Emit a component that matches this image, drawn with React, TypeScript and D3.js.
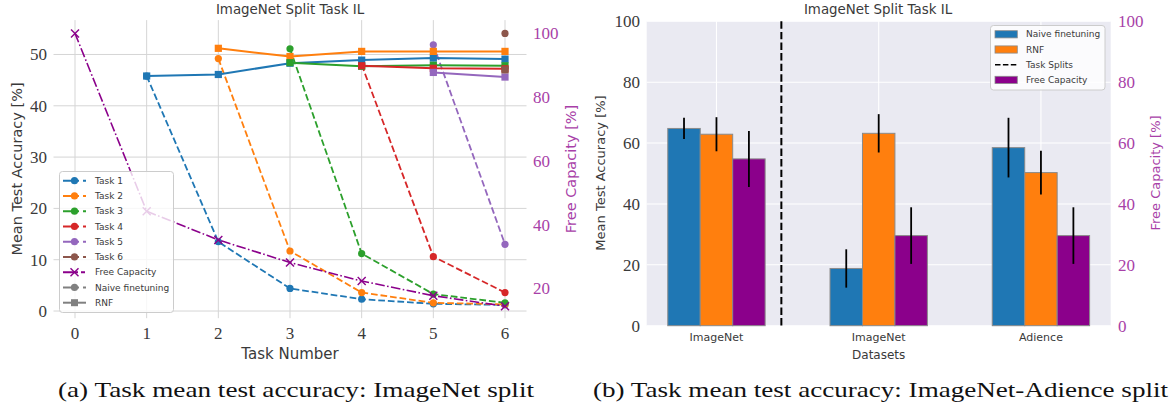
import React from 'react';
import * as d3 from 'd3';

// ---------- Data: left chart (ImageNet split) ----------
const taskNumbers = [0, 1, 2, 3, 4, 5, 6];
const accTicks = [0, 10, 20, 30, 40, 50];
const capTicks = [20, 40, 60, 80, 100];
const taskNames = ['Task 1', 'Task 2', 'Task 3', 'Task 4', 'Task 5', 'Task 6'];
const taskStarts = [1, 2, 3, 4, 5, 6];
const taskColors = ['#1f77b4', '#ff7f0e', '#2ca02c', '#d62728', '#9467bd', '#8c564b'];

const naiveTask1 = [45.8, 13.5, 4.4, 2.3, 1.4, 1.2];
const naiveTask2 = [49.2, 11.7, 3.6, 1.6, 1.3];
const naiveTask3 = [51.1, 11.2, 3.3, 1.6];
const naiveTask4 = [48.0, 10.6, 3.6];
const naiveTask5 = [51.9, 13.0];
const naiveTask6 = [54.1];

const rnfTask1 = [45.8, 46.1, 48.3, 48.9, 49.3, 49.1];
const rnfTask2 = [51.2, 49.6, 50.6, 50.6, 50.6];
const rnfTask3 = [48.4, 47.7, 47.9, 47.8];
const rnfTask4 = [47.8, 47.3, 47.2];
const rnfTask5 = [46.5, 45.6];
const rnfTask6 = [47.0];

const freeCapacity = [100, 44.2, 35.2, 28.1, 22.3, 17.7, 14.4];

const naiveSeries = [naiveTask1, naiveTask2, naiveTask3, naiveTask4, naiveTask5, naiveTask6];
const rnfSeries = [rnfTask1, rnfTask2, rnfTask3, rnfTask4, rnfTask5, rnfTask6];

// ---------- Data: right chart (ImageNet-Adience split) ----------
const datasets = ['ImageNet', 'ImageNet', 'Adience'];
const barTicks = [0, 20, 40, 60, 80, 100];
const naiveMean = [64.8, 18.8, 58.5];
const naiveStd = [3.5, 6.3, 9.8];
const rnfMean = [62.9, 63.2, 50.3];
const rnfStd = [5.6, 6.3, 7.2];
const capMean = [54.8, 29.6, 29.6];
const capStd = [9.2, 9.3, 9.3];
const taskSplitPositions = [0.4];

const SANS = '"DejaVu Sans", sans-serif';
const SERIF = '"Liberation Serif", serif';
const TXT = '#3a3a3a';
const PURPLE = '#8b008b';
const PURPLE_TXT = '#a83fa8';

function XMark({ x, y, s = 4, color = PURPLE }: { x: number; y: number; s?: number; color?: string }) {
  return (
    <g stroke={color} strokeWidth={1.4}>
      <line x1={x - s} y1={y - s} x2={x + s} y2={y + s} />
      <line x1={x - s} y1={y + s} x2={x + s} y2={y - s} />
    </g>
  );
}

function LeftChart() {
  const xL = d3.scaleLinear().domain([-0.3, 6.3]).range([53.5, 526.5]);
  const yL = d3.scaleLinear().domain([-1.4, 56.7]).range([318.2, 20.1]);
  const yR = d3.scaleLinear().domain([10.7, 104.2]).range([318, 20]);
  const [x0, x1] = xL.range();
  const [yb, yt] = yL.range();
  const line = d3.line<[number, number]>().x(d => xL(d[0])).y(d => yL(d[1]));
  const capLine = d3.line<[number, number]>().x(d => xL(d[0])).y(d => yR(d[1]));

  const naivePts = naiveSeries.map((s, i) => s.map((v, j) => [taskStarts[i] + j, v] as [number, number]));
  const rnfPts = rnfSeries.map((s, i) => s.map((v, j) => [taskStarts[i] + j, v] as [number, number]));
  const capPts = freeCapacity.map((v, i) => [taskNumbers[i], v] as [number, number]);

  const legendRows = [
    ...taskNames.map((n, i) => ({ label: n, kind: 'task', color: taskColors[i] })),
    { label: 'Free Capacity', kind: 'cap', color: PURPLE },
    { label: 'Naive finetuning', kind: 'naive', color: '#808080' },
    { label: 'RNF', kind: 'rnf', color: '#808080' },
  ];

  return (
    <g>
      {/* grid */}
      {accTicks.map(t => (
        <line key={'h' + t} x1={x0} x2={x1} y1={yL(t)} y2={yL(t)} stroke="#d5d5d5" strokeWidth={1} />
      ))}
      {taskNumbers.map(t => (
        <line key={'v' + t} x1={xL(t)} x2={xL(t)} y1={yb} y2={yt} stroke="#d5d5d5" strokeWidth={1} />
      ))}
      {/* naive finetuning (dashed, circles) */}
      {naivePts.map((pts, i) => (
        <g key={'n' + i}>
          <path d={line(pts) || ''} fill="none" stroke={taskColors[i]} strokeWidth={1.8} strokeDasharray="6.7,2.9" />
          {pts.map((p, j) => (
            <circle key={j} cx={xL(p[0])} cy={yL(p[1])} r={3.6} fill={taskColors[i]} />
          ))}
        </g>
      ))}
      {/* RNF (solid, squares) */}
      {rnfPts.map((pts, i) => (
        <g key={'r' + i}>
          <path d={line(pts) || ''} fill="none" stroke={taskColors[i]} strokeWidth={2} />
          {pts.map((p, j) => (
            <rect key={j} x={xL(p[0]) - 3.6} y={yL(p[1]) - 3.6} width={7.2} height={7.2} fill={taskColors[i]} />
          ))}
        </g>
      ))}
      {/* free capacity */}
      <path d={capLine(capPts) || ''} fill="none" stroke={PURPLE} strokeWidth={1.6} strokeDasharray="9.6,2.4,1.6,2.4" />
      {capPts.map((p, i) => (
        <XMark key={i} x={xL(p[0])} y={yR(p[1])} />
      ))}
      {/* left ticks */}
      {accTicks.map(t => (
        <text key={'lt' + t} x={47} y={yL(t)} dy="0.35em" textAnchor="end" fontFamily={SERIF} fontSize={17} fill={TXT}>{t}</text>
      ))}
      {taskNumbers.map(t => (
        <text key={'xt' + t} x={xL(t)} y={339} textAnchor="middle" fontFamily={SERIF} fontSize={17} fill={TXT}>{t}</text>
      ))}
      {capTicks.map(t => (
        <text key={'rt' + t} x={533} y={yR(t)} dy="0.35em" textAnchor="start" fontFamily={SERIF} fontSize={17} fill={PURPLE_TXT}>{t}</text>
      ))}
      {/* labels */}
      <text x={290} y={14} textAnchor="middle" fontFamily={SANS} fontSize={13.4} fill={TXT}>ImageNet Split Task IL</text>
      <text x={290} y={359} textAnchor="middle" fontFamily={SANS} fontSize={15} fill={TXT}>Task Number</text>
      <text transform={`translate(22,169) rotate(-90)`} textAnchor="middle" fontFamily={SANS} fontSize={14.5} fill={TXT}>Mean Test Accuracy [%]</text>
      <text transform={`translate(576,169) rotate(-90)`} textAnchor="middle" fontFamily={SANS} fontSize={14.5} fill={PURPLE_TXT}>Free Capacity [%]</text>
      {/* legend */}
      <rect x={59.5} y={171.5} width={114} height={141} rx={3} fill="white" fillOpacity={0.8} stroke="#cccccc" strokeWidth={1} />
      {legendRows.map((r, i) => {
        const y = 180.7 + i * 15.25;
        return (
          <g key={'lg' + i}>
            {r.kind === 'rnf' ? (
              <line x1={63} x2={86} y1={y} y2={y} stroke={r.color} strokeWidth={2} />
            ) : (
              <line x1={63} x2={86} y1={y} y2={y} stroke={r.color} strokeWidth={2} strokeDasharray={r.kind === 'cap' ? '15,3,4' : '16,4,3'} />
            )}
            {r.kind === 'task' && <circle cx={74.5} cy={y} r={3.6} fill={r.color} />}
            {r.kind === 'naive' && <circle cx={74.5} cy={y} r={3.6} fill={r.color} />}
            {r.kind === 'rnf' && <rect x={71} y={y - 3.5} width={7} height={7} fill={r.color} />}
            {r.kind === 'cap' && <XMark x={74.5} y={y} />}
            <text x={95} y={y} dy="0.35em" fontFamily={SANS} fontSize={9} fill={TXT}>{r.label}</text>
          </g>
        );
      })}
    </g>
  );
}

function RightChart() {
  const xB = d3.scaleLinear().domain([-0.43, 2.43]).range([646.7, 1110.7]);
  const yB = d3.scaleLinear().domain([0, 100]).range([325.7, 21.3]);
  const [x0, x1] = xB.range();
  const [yb, yt] = yB.range();
  const bw = xB(0.2) - xB(0);
  const groups = [
    { mean: naiveMean, std: naiveStd, color: '#1f77b4', off: -0.2 },
    { mean: rnfMean, std: rnfStd, color: '#ff7f0e', off: 0 },
    { mean: capMean, std: capStd, color: PURPLE, off: 0.2 },
  ];
  const legend = [
    { label: 'Naive finetuning', kind: 'patch', color: '#1f77b4' },
    { label: 'RNF', kind: 'patch', color: '#ff7f0e' },
    { label: 'Task Splits', kind: 'line', color: '#000' },
    { label: 'Free Capacity', kind: 'patch', color: PURPLE },
  ];
  return (
    <g>
      <rect x={x0} y={yt} width={x1 - x0} height={yb - yt} fill="#eaeaf2" />
      {barTicks.map(t => (
        <line key={'h' + t} x1={x0} x2={x1} y1={yB(t)} y2={yB(t)} stroke="white" strokeWidth={1.1} />
      ))}
      {datasets.map((d, i) => (
        <line key={'v' + i} x1={xB(i)} x2={xB(i)} y1={yb} y2={yt} stroke="white" strokeWidth={1.1} />
      ))}
      {groups.map((g, gi) => (
        <g key={'g' + gi}>
          {g.mean.map((m, i) => (
            <rect key={i} x={xB(i + g.off) - bw / 2} y={yB(m)} width={bw} height={yB(0) - yB(m)} fill={g.color} stroke="#8a8a8a" strokeWidth={1} />
          ))}
        </g>
      ))}
      {groups.map((g, gi) => (
        <g key={'e' + gi}>
          {g.mean.map((m, i) => (
            <line key={i} x1={xB(i + g.off)} x2={xB(i + g.off)} y1={yB(m - g.std[i])} y2={yB(m + g.std[i])} stroke="black" strokeWidth={1.8} />
          ))}
        </g>
      ))}
      {taskSplitPositions.map((p, i) => (
        <line key={'ts' + i} x1={xB(p)} x2={xB(p)} y1={yt} y2={yb} stroke="black" strokeWidth={2} strokeDasharray="7.4,3.2" />
      ))}
      {/* ticks */}
      {barTicks.map(t => (
        <text key={'lt' + t} x={640} y={yB(t)} dy="0.35em" textAnchor="end" fontFamily={SERIF} fontSize={17} fill={TXT}>{t}</text>
      ))}
      {barTicks.map(t => (
        <text key={'rt' + t} x={1118} y={yB(t)} dy="0.35em" textAnchor="start" fontFamily={SERIF} fontSize={17} fill={PURPLE_TXT}>{t}</text>
      ))}
      {datasets.map((d, i) => (
        <text key={'xt' + i} x={xB(i)} y={341} textAnchor="middle" fontFamily={SANS} fontSize={11} fill={TXT}>{d}</text>
      ))}
      <text x={xB(1)} y={359} textAnchor="middle" fontFamily={SANS} fontSize={12} fill={TXT}>Datasets</text>
      <text x={878} y={14} textAnchor="middle" fontFamily={SANS} fontSize={13.4} fill={TXT}>ImageNet Split Task IL</text>
      <text transform={`translate(605,173) rotate(-90)`} textAnchor="middle" fontFamily={SANS} fontSize={13} fill={TXT}>Mean Test Accuracy [%]</text>
      <text transform={`translate(1160,173) rotate(-90)`} textAnchor="middle" fontFamily={SANS} fontSize={13} fill={PURPLE_TXT}>Free Capacity [%]</text>
      {/* legend */}
      <rect x={990.5} y={25.5} width={114.5} height={64.5} rx={3} fill="white" fillOpacity={0.8} stroke="#cccccc" strokeWidth={1} />
      {legend.map((r, i) => {
        const y = 34.3 + i * 15.2;
        return (
          <g key={'lg' + i}>
            {r.kind === 'patch' ? (
              <rect x={995} y={y - 3.6} width={22.3} height={7.2} fill={r.color} stroke="#8a8a8a" strokeWidth={0.8} />
            ) : (
              <line x1={995} x2={1017.3} y1={y} y2={y} stroke={r.color} strokeWidth={1.6} strokeDasharray="5.5,2.4" />
            )}
            <text x={1026} y={y} dy="0.35em" fontFamily={SANS} fontSize={9} fill={TXT}>{r.label}</text>
          </g>
        );
      })}
    </g>
  );
}

export default function App() {
  return (
    <svg width={1170} height={408} viewBox="0 0 1170 408" style={{ position: 'absolute', left: 0, top: 0, background: 'white' }}>
      <rect x={0} y={0} width={1170} height={408} fill="white" />
      <LeftChart />
      <RightChart />
      <text x={58} y={397} fontFamily={SERIF} fontSize={21} fill="#111" textLength={476} lengthAdjust="spacingAndGlyphs">(a) Task mean test accuracy: ImageNet split</text>
      <text x={593} y={397} fontFamily={SERIF} fontSize={21} fill="#111" textLength={575} lengthAdjust="spacingAndGlyphs">(b) Task mean test accuracy: ImageNet-Adience split</text>
    </svg>
  );
}
